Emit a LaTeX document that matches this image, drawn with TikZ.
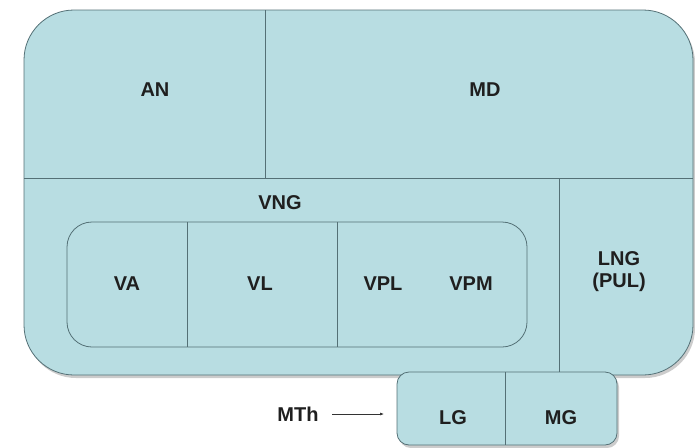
\documentclass[tikz,border=0pt]{standalone}
\usepackage{fontspec}
\setmainfont{Liberation Sans}
\usetikzlibrary{shadows}
\usetikzlibrary{arrows.meta}
\definecolor{thalfill}{RGB}{184,221,226}
\definecolor{thalline}{RGB}{84,112,118}

\begin{document}
\begin{tikzpicture}[x=1pt,y=-1pt,
	thalbox/.style={draw=thalline,fill=thalfill,line width=0.8pt},
	thalshadow/.style={drop shadow={shadow xshift=2pt,shadow yshift=-3pt,opacity=0.4}},
	divline/.style={draw=thalline,line width=0.7pt},
	nucleus/.style={font=\fontsize{20}{22}\selectfont\bfseries,text=black!88,align=center}]
	\useasboundingbox (0,0) rectangle (695,447);
	\path[thalbox,thalshadow,rounded corners=50pt] (24,10) rectangle (693,375);
	\path[divline] (24,178) -- (693,178);
	\path[divline] (265,10) -- (265,178);
	\path[divline] (559,178) -- (559,375);
	\path[thalbox,rounded corners=25pt] (67,222) rectangle (527,347);
	\path[divline] (187,222) -- (187,347);
	\path[divline] (337,222) -- (337,347);
	\path[thalbox,thalshadow,rounded corners=12pt] (397,372) rectangle (617,445);
	\path[divline] (505,372) -- (505,445);
	\node[nucleus] (AN) at (155,90) {AN};
	\node[nucleus] (MD) at (485,90) {MD};
	\node[nucleus] (VNG) at (280,203) {VNG};
	\node[nucleus] (VA) at (127,284) {VA};
	\node[nucleus] (VL) at (260,284) {VL};
	\node[nucleus] (VPL) at (383,284) {VPL};
	\node[nucleus] (VPM) at (471,284) {VPM};
	\node[nucleus] (LNG) at (619,272) {LNG\\(PUL)};
	\node[nucleus] (LG) at (453,418) {LG};
	\node[nucleus] (MG) at (561,418) {MG};
	\node[nucleus] (MTh) at (298,414) {MTh};
	\coordinate (LGin) at (384,414);
	\path[->,>={Latex[length=4pt,width=3pt]},draw=black!80,line width=0.6pt]
	(MTh)	edge [shorten <=10pt]	(LGin);
\end{tikzpicture}
\end{document}
